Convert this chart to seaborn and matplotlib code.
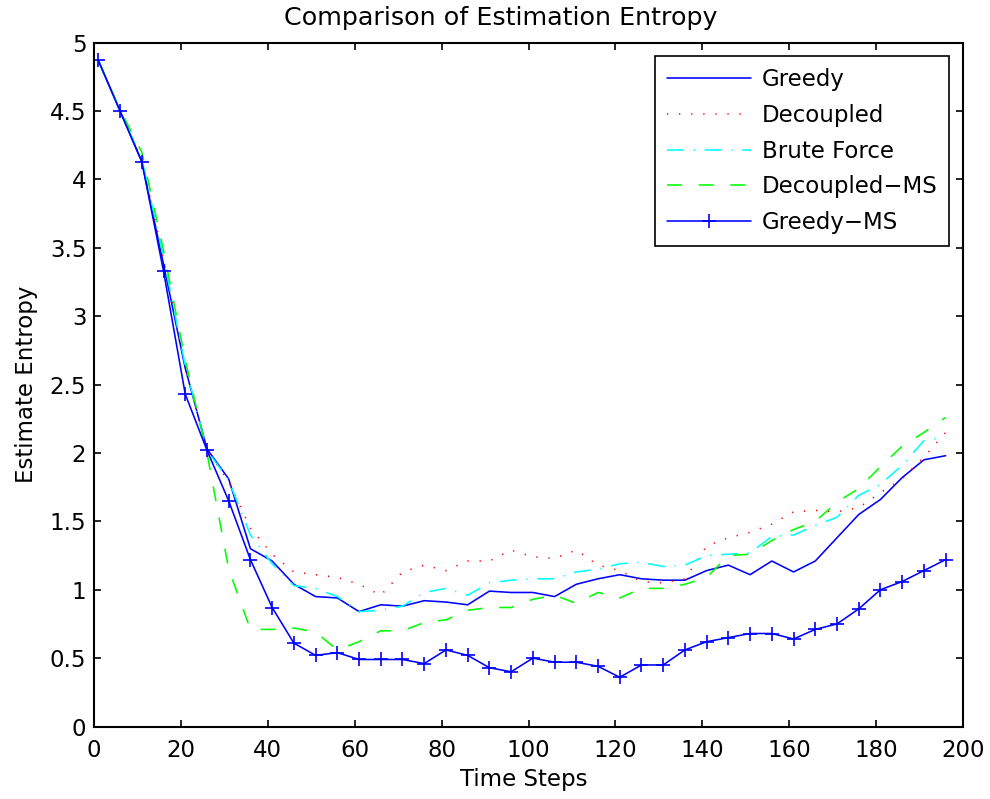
import matplotlib
matplotlib.use("Agg")
import matplotlib.pyplot as plt
import seaborn as sns

# -----------------------------
# Data
# -----------------------------
time_steps = list(range(1, 200, 5))

greedy = [4.87, 4.50, 4.13, 3.38, 2.62, 2.03, 1.81, 1.30, 1.21, 1.04,
          0.95, 0.94, 0.84, 0.89, 0.88, 0.92, 0.91, 0.89, 0.99, 0.98,
          0.98, 0.95, 1.04, 1.08, 1.11, 1.08, 1.07, 1.07, 1.14, 1.18,
          1.11, 1.21, 1.13, 1.21, 1.38, 1.55, 1.66, 1.82, 1.95, 1.98]

decoupled = [4.87, 4.50, 4.15, 3.42, 2.63, 2.02, 1.79, 1.45, 1.26, 1.13,
             1.11, 1.09, 1.04, 0.96, 1.13, 1.18, 1.14, 1.21, 1.21, 1.29,
             1.24, 1.23, 1.29, 1.18, 1.14, 1.06, 1.05, 1.08, 1.32, 1.38,
             1.42, 1.48, 1.57, 1.58, 1.57, 1.60, 1.71, 1.81, 1.97, 2.15]

brute_force = [4.87, 4.50, 4.15, 3.43, 2.64, 2.02, 1.80, 1.40, 1.19, 1.03,
               1.01, 0.95, 0.84, 0.85, 0.88, 0.98, 1.01, 0.96, 1.05, 1.07,
               1.08, 1.08, 1.13, 1.15, 1.19, 1.20, 1.17, 1.18, 1.25, 1.26,
               1.27, 1.39, 1.40, 1.47, 1.53, 1.69, 1.77, 1.91, 2.09, 2.12]

decoupled_ms = [4.87, 4.51, 4.20, 3.48, 2.68, 2.00, 1.15, 0.71, 0.71, 0.72,
                0.69, 0.56, 0.62, 0.70, 0.70, 0.76, 0.78, 0.85, 0.87, 0.87,
                0.93, 0.96, 0.90, 0.98, 0.94, 1.01, 1.01, 1.04, 1.09, 1.25,
                1.26, 1.36, 1.44, 1.50, 1.64, 1.74, 1.90, 2.05, 2.15, 2.26]

greedy_ms = [4.87, 4.50, 4.13, 3.33, 2.43, 2.02, 1.65, 1.22, 0.87, 0.61,
             0.52, 0.54, 0.49, 0.49, 0.49, 0.46, 0.56, 0.52, 0.43, 0.40,
             0.50, 0.47, 0.47, 0.44, 0.36, 0.45, 0.45, 0.56, 0.62, 0.65,
             0.68, 0.68, 0.64, 0.71, 0.75, 0.86, 1.00, 1.06, 1.14, 1.22]

x_ticks = list(range(0, 201, 20))
y_ticks = [0, 0.5, 1, 1.5, 2, 2.5, 3, 3.5, 4, 4.5, 5]
y_tick_labels = ["0", "0.5", "1", "1.5", "2", "2.5", "3", "3.5", "4", "4.5", "5"]

# -----------------------------
# Style (MATLAB-like)
# -----------------------------
sns.set_theme(style="white")
plt.rcParams["font.family"] = ["DejaVu Sans"]
plt.rcParams["lines.scale_dashes"] = False
for k in ["text.color", "axes.labelcolor", "xtick.color", "ytick.color"]:
    plt.rcParams[k] = "black"
FS = 16.5

fig = plt.figure(figsize=(9.9, 7.99), dpi=100)
ax = fig.add_axes([94 / 990, (799 - 726.5) / 799, (963 - 94) / 990, (726.5 - 42.7) / 799])

LW = 1.15
sns.lineplot(x=time_steps, y=greedy, ax=ax, color="#0000ff", lw=LW,
             label="Greedy")
sns.lineplot(x=time_steps, y=decoupled, ax=ax, color="#ff0000", lw=LW,
             linestyle=(0, (0.9, 7.8)), label="Decoupled")
sns.lineplot(x=time_steps, y=brute_force, ax=ax, color="#00ffff", lw=LW,
             linestyle=(0, (12.2, 7.0, 0.9, 7.0)), label="Brute Force")
sns.lineplot(x=time_steps, y=decoupled_ms, ax=ax, color="#00ff00", lw=LW,
             linestyle=(0, (10.8, 12.0)), label="Decoupled\u2212MS")
sns.lineplot(x=time_steps, y=greedy_ms, ax=ax, color="#0000ff", lw=LW,
             marker="+", markersize=9.5, markeredgewidth=1.2,
             markeredgecolor="#0000ff", label="Greedy\u2212MS")

ax.set_xlim(0, 200)
ax.set_ylim(0, 5)
ax.set_xticks(x_ticks)
ax.set_yticks(y_ticks)
ax.set_yticklabels(y_tick_labels)

ax.tick_params(direction="in", length=5, width=1.2, color="black",
               labelsize=FS, top=True, right=True, bottom=True, left=True)
ax.tick_params(axis="x", pad=9)
ax.tick_params(axis="y", pad=5.5)
for side in ax.spines.values():
    side.set_visible(True)
    side.set_color("black")
    side.set_linewidth(1.5)

ax.set_title("Comparison of Estimation Entropy", fontsize=18.3, pad=13,
             x=0.468)
ax.set_xlabel("Time Steps", fontsize=FS)
ax.set_ylabel("Estimate Entropy", fontsize=FS)
ax.xaxis.set_label_coords(0.495, -0.061, transform=ax.transAxes)
ax.yaxis.set_label_coords(-0.064, 0.5, transform=ax.transAxes)

leg = ax.legend(loc="upper right", fontsize=FS, frameon=True, fancybox=False,
                framealpha=1, edgecolor="black", handlelength=3.65,
                handletextpad=0.5, labelspacing=0.56, borderpad=0.5,
                borderaxespad=0.6)
leg.get_frame().set_linewidth(1.2)

fig.savefig("out.png", dpi=100)
